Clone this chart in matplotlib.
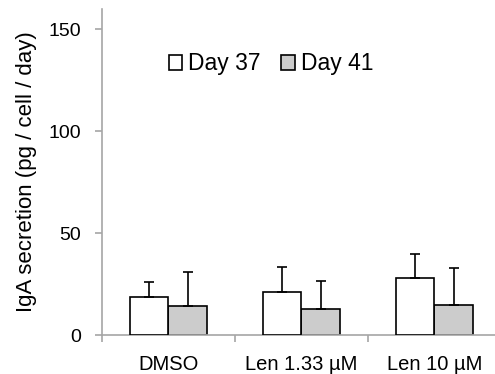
import numpy as np
import matplotlib.pyplot as plt

plt.rcParams['font.family'] = ['Liberation Sans', 'DejaVu Sans']

groups = ['DMSO', 'Len 1.33 µM', 'Len 10 µM']
day37 = [18.5, 21.1, 27.8]
day37_err = [7.3, 12.2, 11.8]
day41 = [14.1, 12.7, 14.7]
day41_err = [16.6, 13.9, 18.0]

x = np.arange(len(groups))
w = 0.29
grey = '#a6a6a6'
ekw = dict(ecolor='black', elinewidth=1.2, capsize=3.8, capthick=1.2)

fig = plt.figure(figsize=(4.95, 3.74), dpi=100)
ax = fig.add_axes([102/495, 39/374, 393/495, 326/374])

ax.bar(x - w/2, day37, w, color='white', edgecolor='black', linewidth=1.2,
       yerr=[np.zeros(3), day37_err], error_kw=ekw, label='Day 37', zorder=3)
ax.bar(x + w/2, day41, w, color='#cccccc', edgecolor='black', linewidth=1.2,
       yerr=[np.zeros(3), day41_err], error_kw=ekw, label='Day 41', zorder=2)

ax.set_xlim(-0.5, 2.455)
ax.set_ylim(0, 160)
ax.set_yticks([0, 50, 100, 150])
ax.tick_params(axis='y', labelsize=14, length=5, color=grey, width=1.2, pad=10)
ax.set_xticks(x)
ax.set_xticklabels(groups)
ax.tick_params(axis='x', which='major', length=0, labelsize=14.5, pad=14.5)
ax.set_xticks([-0.5, 0.5, 1.5], minor=True)
ax.tick_params(axis='x', which='minor', length=5, color=grey, width=1.2)

for s in ['top', 'right']:
    ax.spines[s].set_visible(False)
for s in ['left', 'bottom']:
    ax.spines[s].set_color(grey)
    ax.spines[s].set_linewidth(1.2)

ax.set_ylabel('IgA secretion (pg / cell / day)', fontsize=16, labelpad=8)

ax.legend(loc='upper left', bbox_to_anchor=(0.117, 0.93), ncol=2, frameon=False,
          fontsize=16.5, handlelength=0.6, handleheight=0.6, handletextpad=0.25,
          columnspacing=0.9)

fig.savefig('out.png', dpi=100)
